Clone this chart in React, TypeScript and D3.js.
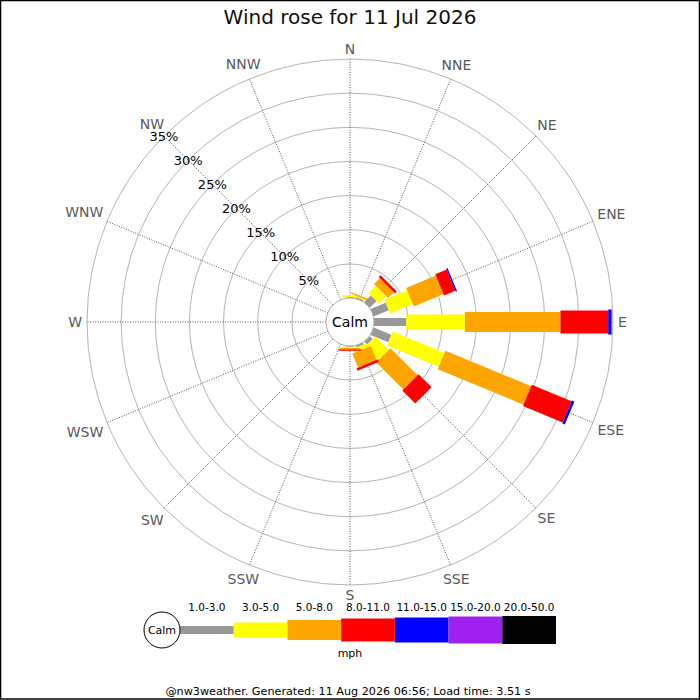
import React, { useEffect, useRef } from "react";
import * as d3 from "d3";

// compass points, clockwise from north
const directions = [
  "N", "NNE", "NE", "ENE", "E", "ESE", "SE", "SSE",
  "S", "SSW", "SW", "WSW", "W", "WNW", "NW", "NNW",
];

const speedBins = [
  "1.0-3.0", "3.0-5.0", "5.0-8.0", "8.0-11.0", "11.0-15.0", "15.0-20.0", "20.0-50.0",
];

const binColours = [
  "#999999", "#ffff00", "#ffa500", "#ff0000", "#0000ff", "#a020f0", "#000000",
];

// percent of time per direction, one array per speed bin
const pct1to3 = [0.1, 0.2, 1.4, 2.4, 4.7, 2.8, 0.6, 0.3, 0.1, 0, 0, 0, 0, 0, 0, 0];
const pct3to5 = [0.3, 0.2, 1.5, 3.6, 8.6, 8.2, 2.8, 0.6, 0.2, 0, 0, 0, 0, 0, 0, 0];
const pct5to8 = [0, 0.2, 1.2, 4.7, 14.0, 13.6, 5.6, 2.2, 0.2, 0, 0, 0, 0, 0, 0, 0];
const pct8to11 = [0, 0, 0.4, 1.8, 7.0, 6.3, 2.7, 0.4, 0.2, 0, 0, 0, 0, 0, 0, 0];
const pct11to15 = [0, 0, 0, 0.2, 0.5, 0.4, 0, 0, 0, 0, 0, 0, 0, 0, 0, 0];
const pct15to20 = [0, 0, 0, 0, 0, 0, 0, 0, 0, 0, 0, 0, 0, 0, 0, 0];
const pct20to50 = [0, 0, 0, 0, 0, 0, 0, 0, 0, 0, 0, 0, 0, 0, 0, 0];

const series = [pct1to3, pct3to5, pct5to8, pct8to11, pct11to15, pct15to20, pct20to50];

const ringTicks = [5, 10, 15, 20, 25, 30, 35];

const WIDTH = 700;
const HEIGHT = 700;
const FONT = "'DejaVu Sans', sans-serif";

const App = () => {
  const ref: any = useRef();

  useEffect(() => {
    const svg = d3.select(ref.current);
    svg.selectAll("*").remove();

    const cx = 350;
    const cy = 322;
    const calmR = 24;
    // bar thickness per speed bin
    const barWidths = [8, 15, 20, 23, 25, 27, 28];

    const rScale = d3.scaleLinear().domain([0, 35]).range([calmR, 263]);
    const angle = (i: number) => (i * 360) / directions.length;
    const polar = (deg: number, r: number) => {
      const a = (deg * Math.PI) / 180;
      return [cx + r * Math.sin(a), cy - r * Math.cos(a)];
    };

    svg.append("rect")
      .attr("x", 0.5).attr("y", 0.5)
      .attr("width", WIDTH - 1).attr("height", HEIGHT - 1.5)
      .attr("fill", "#fff").attr("stroke", "#000").attr("stroke-width", 1.5);

    // title
    svg.append("text")
      .attr("x", cx).attr("y", 24)
      .attr("text-anchor", "middle")
      .attr("font-family", FONT).attr("font-size", 20)
      .attr("fill", "#111")
      .text("Wind rose for 11 Jul 2026");

    // rings
    svg.append("g")
      .selectAll("circle")
      .data(ringTicks)
      .join("circle")
      .attr("cx", cx).attr("cy", cy)
      .attr("r", (d) => rScale(d))
      .attr("fill", "none")
      .attr("stroke", "#b4b4b4")
      .attr("stroke-width", 1);

    // spokes
    svg.append("g")
      .selectAll("line")
      .data(directions)
      .join("line")
      .attr("x1", (_d, i) => polar(angle(i), calmR)[0])
      .attr("y1", (_d, i) => polar(angle(i), calmR)[1])
      .attr("x2", (_d, i) => polar(angle(i), rScale(35))[0])
      .attr("y2", (_d, i) => polar(angle(i), rScale(35))[1])
      .attr("stroke", "#555")
      .attr("stroke-width", 1)
      .attr("stroke-dasharray", "1,1.5");

    // direction labels, pushed out by their own size
    const dirLabels = svg.append("g")
      .selectAll("text")
      .data(directions)
      .join("text")
      .attr("text-anchor", "middle")
      .attr("dominant-baseline", "central")
      .attr("font-family", FONT).attr("font-size", 14)
      .attr("fill", "#5a5a5a")
      .text((d) => d);
    dirLabels.each(function (_d, i) {
      const el = this as SVGTextElement;
      const w = el.getComputedTextLength();
      const a = (angle(i) * Math.PI) / 180;
      const r = rScale(35) + 5 + (w / 2) * Math.abs(Math.sin(a)) + 5 * Math.abs(Math.cos(a));
      const [x, y] = polar(angle(i), r);
      d3.select(el).attr("x", x).attr("y", y);
    });

    // stacked bars
    const bars = svg.append("g");
    directions.forEach((dir, i) => {
      let acc = 0;
      series.forEach((vals, b) => {
        const v = vals[i];
        if (!v) return;
        const r0 = rScale(acc);
        const r1 = rScale(acc + v);
        acc += v;
        bars.append("rect")
          .attr("x", r0)
          .attr("y", -barWidths[b] / 2)
          .attr("width", r1 - r0)
          .attr("height", barWidths[b])
          .attr("fill", binColours[b])
          .attr("transform", `translate(${cx},${cy}) rotate(${angle(i) - 90})`)
          .attr("data-dir", dir);
      });
    });

    // percentage labels along the NW spoke
    svg.append("g")
      .selectAll("text")
      .data(ringTicks)
      .join("text")
      .attr("x", (d) => polar(315, rScale(d))[0])
      .attr("y", (d) => polar(315, rScale(d))[1])
      .attr("text-anchor", "middle")
      .attr("dominant-baseline", "central")
      .attr("font-family", FONT).attr("font-size", 13)
      .attr("fill", "#000")
      .text((d) => `${d}%`);

    // calm circle
    svg.append("circle")
      .attr("cx", cx).attr("cy", cy).attr("r", calmR)
      .attr("fill", "#fff").attr("stroke", "#aaa");
    svg.append("text")
      .attr("x", cx).attr("y", cy)
      .attr("text-anchor", "middle")
      .attr("dominant-baseline", "central")
      .attr("font-family", FONT).attr("font-size", 14)
      .text("Calm");

    // legend
    const legY = 630;
    const legCalm = { x: 162, r: 18 };
    const legScale = d3.scaleBand()
      .domain(speedBins)
      .range([legCalm.x + legCalm.r, 556]);
    const legend = svg.append("g");
    legend.selectAll("rect")
      .data(speedBins)
      .join("rect")
      .attr("x", (d) => legScale(d) || 0)
      .attr("y", (_d, i) => legY - barWidths[i] / 2)
      .attr("width", legScale.bandwidth())
      .attr("height", (_d, i) => barWidths[i])
      .attr("fill", (_d, i) => binColours[i]);
    legend.selectAll("text.bin")
      .data(speedBins)
      .join("text")
      .attr("class", "bin")
      .attr("x", (d) => (legScale(d) || 0) + legScale.bandwidth() / 2)
      .attr("y", 611)
      .attr("text-anchor", "middle")
      .attr("font-family", FONT).attr("font-size", 10.5)
      .text((d) => d);
    legend.append("circle")
      .attr("cx", legCalm.x).attr("cy", legY).attr("r", legCalm.r)
      .attr("fill", "#fff").attr("stroke", "#000");
    legend.append("text")
      .attr("x", legCalm.x).attr("y", legY)
      .attr("text-anchor", "middle")
      .attr("dominant-baseline", "central")
      .attr("font-family", FONT).attr("font-size", 11)
      .text("Calm");
    legend.append("text")
      .attr("x", 350).attr("y", 657)
      .attr("text-anchor", "middle")
      .attr("font-family", FONT).attr("font-size", 11)
      .text("mph");

    // footer
    svg.append("text")
      .attr("x", 348).attr("y", 695)
      .attr("text-anchor", "middle")
      .attr("font-family", FONT).attr("font-size", 11.2)
      .text("@nw3weather. Generated: 11 Aug 2026 06:56; Load time: 3.51 s");
  }, []);

  return (
    <svg
      ref={ref}
      width={WIDTH}
      height={HEIGHT}
      style={{ position: "absolute", left: 0, top: 0 }}
    ></svg>
  );
};

export default App;
